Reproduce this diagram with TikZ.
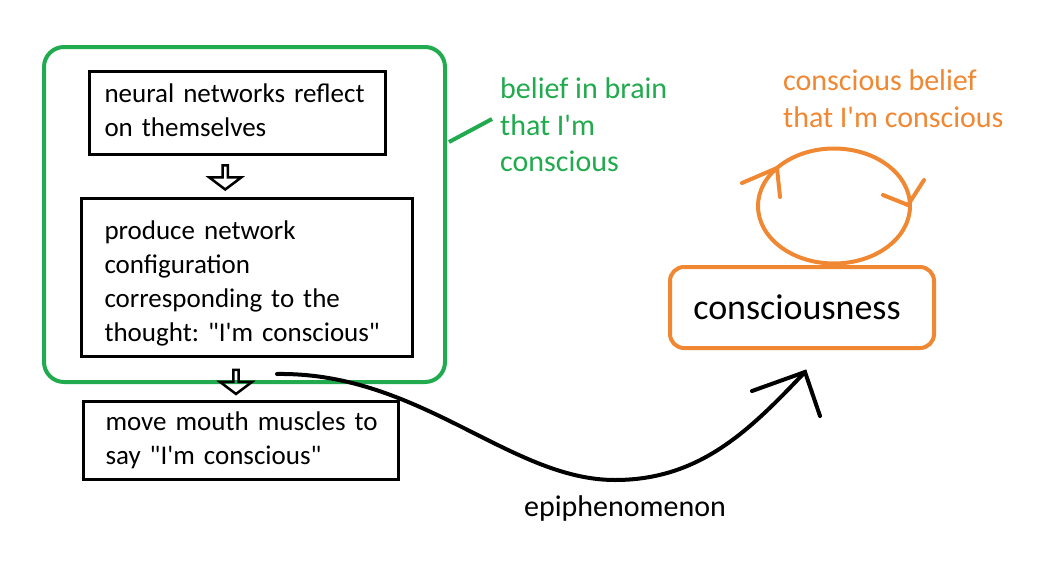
\documentclass[tikz,border=0pt]{standalone}
\usepackage{fontspec}
\setmainfont{Carlito}
\frenchspacing
\usetikzlibrary{shapes.geometric,shapes.arrows,calc}
\definecolor{paintgreen}{RGB}{34,170,78}
\definecolor{paintorange}{RGB}{240,135,50}
\newcommand{\im}{I\textquotesingle m}
\newcommand{\dq}{\textquotedbl}
\newcommand{\boxlines}[1]{\begin{tabular}{@{}l@{}}#1\end{tabular}}
\tikzset{
  stepbox/.style={draw=black,line width=3pt,anchor=north west,align=left,inner ysep=0pt,
    font=\fontsize{27}{34}\selectfont},
  downarrow/.style={draw=black,line width=2.5pt,single arrow,shape border rotate=270,
    minimum height=24pt,minimum width=32pt,single arrow head extend=6.5pt,
    single arrow tip angle=106,inner sep=0pt},
  note/.style={anchor=west,align=left,inner sep=0pt,font=\fontsize{30}{36.5}\selectfont},
  orangeline/.style={draw=paintorange,line width=4pt,line cap=round},
}
\begin{document}
\begin{tikzpicture}[x=1pt,y=-1pt]
\useasboundingbox (0,0) rectangle (1051,562);
% brain side
\node[draw=paintgreen,line width=4pt,rounded corners=20pt,minimum width=401pt,
  minimum height=335pt,anchor=north west] (brain) at (42,45) {};
\node[stepbox,inner xsep=15pt,text width=266pt,minimum height=83pt] (reflect) at (88,70)
  {\boxlines{neural networks reflect\\on themselves}};
\node[stepbox,inner xsep=23pt,text width=285pt,minimum height=158pt] (produce) at (80,197)
  {\boxlines{\rule{0pt}{36pt}produce network\\configuration\\corresponding to the\\thought: \dq\im{} conscious\dq}};
\node[stepbox,inner xsep=22pt,text width=271pt,minimum height=78pt] (mouth) at (82,400)
  {\boxlines{move mouth muscles to\\say \dq\im{} conscious\dq}};
\node[downarrow] (stepA) at ($(reflect.south)!0.5!(produce.north)+(-17,0)$) {};
\node[downarrow] (stepB) at ($(produce.south)!0.5!(mouth.north)+(-8,2)$) {};
\node[note,text=paintgreen] (beliefnote) at (500,125) {belief in brain\\that \im\\conscious};
\draw[paintgreen,line width=4pt] ($(brain.north east)+(2,97)$) -- ($(beliefnote.west)+(-8,-6)$);
% mind side
\node[note,text=paintorange,font=\fontsize{30}{37}\selectfont] (loopnote) at (783,98.5)
  {conscious belief\\that \im{} conscious};
\node[draw=paintorange,line width=4pt,ellipse,minimum width=152pt,minimum height=115pt,
  inner sep=0pt] (loop) at (834,206) {};
\draw[orangeline] ($(loop.center)+(-92,-23)$) -- ($(loop.center)+(-57,-38)$) -- ($(loop.center)+(-54,-9)$);
\draw[orangeline] ($(loop.center)+(49,-11)$) -- ($(loop.center)+(74,-1)$) -- ($(loop.center)+(90,-26)$);
\node[draw=paintorange,line width=4pt,rounded corners=14pt,minimum width=264pt,
  minimum height=81pt,anchor=north west,font=\fontsize{36}{40}\selectfont,text depth=0pt] (mind) at (668,265)
  {consciousness\hspace*{10pt}};
% epiphenomenon link
\coordinate (thought) at ($(produce.south west)+(197,16)$);
\coordinate (tip) at ($(mind.south)+(3,22)$);
\draw[line width=4pt,line cap=round] (thought) .. controls (420,372) and (510,480) .. (615,480)
  .. controls (700,480) and (750,430) .. (tip);
\draw[line width=4pt,line cap=round] ($(tip)+(-53,19)$) -- (tip) -- ($(tip)+(15,44)$);
\node[font=\fontsize{30}{34}\selectfont] (epi) at (625,508) {epiphenomenon};
\end{tikzpicture}
\end{document}
